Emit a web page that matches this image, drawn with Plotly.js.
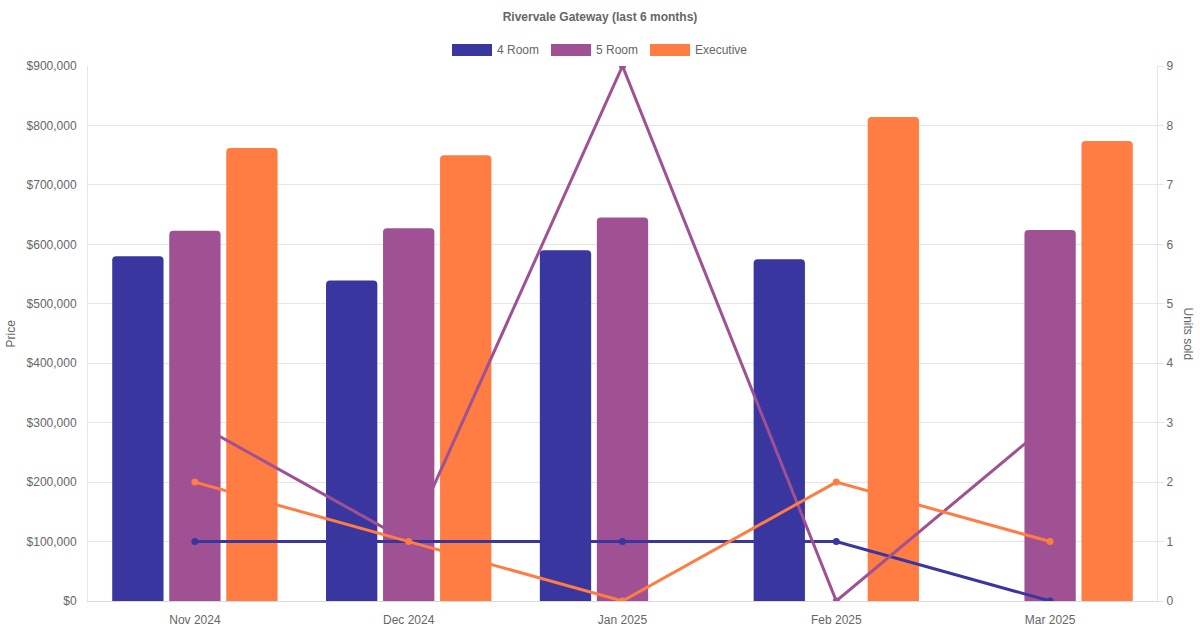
<!DOCTYPE html>
<html>
<head>
<meta charset="utf-8">
<script src="https://cdn.plot.ly/plotly-3.0.1.min.js"></script>
<style>
  html, body { margin: 0; padding: 0; background: #fff; }
  #chart { width: 1200px; height: 630px; }
</style>
</head>
<body>
<div id="chart"></div>
<script>
var months = ["Nov 2024", "Dec 2024", "Jan 2025", "Feb 2025", "Mar 2025"]
var roomTypes = ["4 Room", "5 Room", "Executive"]

// median price per month (null = no transaction)
var price4Room = [580000, 539000, 590000, 575000, null]
var price5Room = [623000, 627000, 645000, null, 624000]
var priceExec = [762000, 750000, null, 814000, 774000]

// units sold per month
var units4Room = [1, 1, 1, 1, 0]
var units5Room = [3, 1, 9, 0, 3]
var unitsExec = [2, 1, 0, 2, 1]

var colors = ["#3a36a0", "#a05193", "#ff7c43"]
var prices = [price4Room, price5Room, priceExec]
var units = [units4Room, units5Room, unitsExec]

var font = "Liberation Sans, Arial, Helvetica, sans-serif"
var grey = "#666666"
var gridCol = "#e6e6e6"

var data = []
for (let i = 0; i < roomTypes.length; i++) {
    data.push({
        type: "bar",
        name: roomTypes[i],
        x: months,
        y: prices[i],
        marker: {
            color: colors[i],
            cornerradius: 4,
            line: {width: 0}
        },
        showlegend: false,
        hoverinfo: "x+y+name"
    })
}
for (let i = 0; i < roomTypes.length; i++) {
    data.push({
        type: "scatter",
        mode: "lines+markers",
        name: roomTypes[i] + " units",
        x: months,
        y: units[i],
        yaxis: "y2",
        line: {color: colors[i], width: 3},
        marker: {color: colors[i], size: 7},
        showlegend: false
    })
}

// plot area in pixels: x 88..1157, y 66..601
var L = 88, R = 1157, T = 66, B = 601
function px(x) { return (x - L) / (R - L) }
function py(y) { return (B - y) / (B - T) }

// hand-made legend, chart.js style wide swatches
var legendX = [452, 551, 650]
var shapes = []
var annotations = []
for (let i = 0; i < roomTypes.length; i++) {
    shapes.push({
        type: "rect", xref: "paper", yref: "paper",
        x0: px(legendX[i]), x1: px(legendX[i] + 40),
        y0: py(56), y1: py(44),
        fillcolor: colors[i],
        line: {width: 0}
    })
    annotations.push({
        xref: "paper", yref: "paper",
        x: px(legendX[i] + 43), y: py(50),
        xanchor: "left", yanchor: "middle",
        text: roomTypes[i], showarrow: false,
        font: {family: font, size: 12, color: grey}
    })
}
annotations.push({
    xref: "paper", yref: "paper", x: 0, y: 0.5,
    xshift: -78, xanchor: "center", yanchor: "middle",
    textangle: -90, text: "Price", showarrow: false,
    font: {family: font, size: 12, color: grey}
})
annotations.push({
    xref: "paper", yref: "paper", x: 1, y: 0.5,
    xshift: 31, xanchor: "center", yanchor: "middle",
    textangle: 90, text: "Units sold", showarrow: false,
    font: {family: font, size: 12, color: grey}
})

var layout = {
    width: 1200,
    height: 630,
    margin: {l: L, r: 1200 - R, t: T, b: 630 - B, pad: 0},
    paper_bgcolor: "#ffffff",
    plot_bgcolor: "#ffffff",
    font: {family: font, size: 12, color: grey},
    title: {
        text: "<b>Rivervale Gateway (last 6 months)</b>",
        x: 0.5, xref: "container", xanchor: "center",
        y: 1 - 17 / 630, yref: "container", yanchor: "middle",
        font: {family: font, size: 12, color: grey}
    },
    barmode: "group",
    bargap: 0.2,
    bargroupgap: 0.1,
    showlegend: false,
    xaxis: {
        type: "category",
        showgrid: false,
        showline: true,
        linecolor: "#d9d9d9",
        linewidth: 1,
        ticks: "",
        ticklabelstandoff: 8,
        tickfont: {family: font, size: 12, color: grey},
        fixedrange: true
    },
    yaxis: {
        range: [0, 900000],
        dtick: 100000,
        tickprefix: "$",
        tickformat: ",d",
        showgrid: true,
        gridcolor: gridCol,
        zeroline: false,
        showline: true,
        linecolor: gridCol,
        ticks: "",
        ticklabelstandoff: 8,
        tickfont: {family: font, size: 12, color: grey}
    },
    yaxis2: {
        overlaying: "y",
        side: "right",
        range: [0, 9],
        dtick: 1,
        showgrid: false,
        zeroline: false,
        showline: true,
        linecolor: gridCol,
        ticks: "outside",
        ticklen: 6,
        tickcolor: gridCol,
        ticklabelstandoff: 0,
        tickfont: {family: font, size: 12, color: grey}
    },
    shapes: shapes,
    annotations: annotations
}

Plotly.newPlot("chart", data, layout, {displayModeBar: false, staticPlot: true})
</script>
</body>
</html>
